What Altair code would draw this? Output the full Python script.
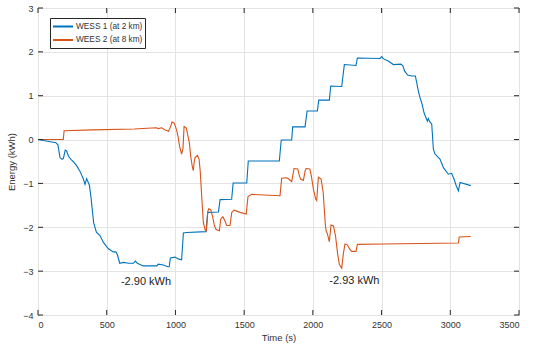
import altair as alt
import pandas as pd

# ---- data ----
wess1_t = [0, 130, 145, 160, 175, 185, 198, 208, 222, 240, 262, 282, 305, 330, 342, 354, 374, 385, 395, 405,
           425, 451, 475, 512, 548, 567, 577, 595, 621, 660, 694, 708, 723, 766, 864, 876, 912, 945, 955, 963,
           997, 1021, 1045, 1058, 1082, 1223, 1235, 1313, 1325, 1409, 1420, 1519, 1530, 1756, 1770, 1846, 1853,
           1943, 1958, 2033, 2043, 2120, 2130, 2210, 2229, 2314, 2324, 2489, 2501, 2515, 2549, 2586, 2640, 2655,
           2668, 2690, 2720, 2746, 2768, 2780, 2792, 2809, 2833, 2840, 2848, 2865, 2877, 2889, 2926, 2950, 2986,
           3010, 3027, 3042, 3059, 3071, 3149]
wess1_e = [0.0, -0.07, -0.12, -0.41, -0.45, -0.43, -0.24, -0.26, -0.38, -0.45, -0.52, -0.6, -0.72, -0.9, -1.02,
           -0.89, -1.04, -1.3, -1.6, -1.9, -2.11, -2.19, -2.34, -2.49, -2.56, -2.56, -2.62, -2.82, -2.8, -2.82,
           -2.82, -2.77, -2.82, -2.88, -2.88, -2.84, -2.86, -2.9, -2.9, -2.7, -2.68, -2.72, -2.74, -2.13, -2.12,
           -2.1, -1.66, -1.65, -1.37, -1.36, -0.99, -0.99, -0.49, -0.49, -0.01, -0.01, 0.29, 0.29, 0.65, 0.65,
           0.9, 0.9, 1.22, 1.21, 1.71, 1.69, 1.86, 1.85, 1.89, 1.84, 1.79, 1.71, 1.72, 1.68, 1.56, 1.47, 1.45,
           1.45, 1.1, 0.95, 0.84, 0.61, 0.42, 0.48, 0.42, 0.35, -0.22, -0.33, -0.45, -0.64, -0.79, -0.77, -0.9,
           -1.04, -1.17, -0.98, -1.05]

wees2_t = [0, 184, 190, 400, 700, 860, 876, 900, 925, 950, 965, 975, 990, 1000, 1010, 1020, 1030, 1045, 1055,
           1063, 1078, 1090, 1101, 1112, 1123, 1130, 1137, 1143, 1160, 1172, 1180, 1191, 1203, 1215, 1225, 1235,
           1242, 1257, 1270, 1283, 1296, 1320, 1330, 1345, 1360, 1373, 1397, 1410, 1427, 1470, 1515, 1528, 1555,
           1761, 1773, 1810, 1825, 1846, 1863, 1890, 1900, 1910, 1931, 1945, 1951, 1978, 1990, 2004, 2020, 2028,
           2040, 2060, 2075, 2090, 2096, 2106, 2120, 2132, 2150, 2165, 2180, 2193, 2210, 2222, 2234, 2251, 2268,
           2283, 2314, 2324, 2513, 3059, 3065, 3149]
wees2_e = [0, 0, 0.2, 0.22, 0.24, 0.27, 0.25, 0.27, 0.22, 0.19, 0.3, 0.4, 0.38, 0.3, 0.2, 0.05, -0.15, -0.33,
           -0.2, 0.3, 0.27, 0.1, -0.07, -0.4, -0.62, -0.71, -0.5, -0.41, -0.36, -0.45, -0.7, -1.28, -1.89, -2.05,
           -2.08, -1.65, -1.58, -1.6, -1.75, -1.95, -2.05, -2.08, -1.81, -1.76, -1.85, -1.96, -1.96, -1.66, -1.61,
           -1.66, -1.7, -1.3, -1.25, -1.28, -0.88, -0.87, -0.9, -0.96, -0.66, -0.67, -0.8, -0.9, -0.93, -0.7,
           -0.66, -0.67, -0.85, -1.13, -1.35, -1.39, -0.86, -0.9, -1.2, -1.9, -2.08, -2.15, -2.33, -1.95, -1.97,
           -2.2, -2.6, -2.85, -2.93, -2.6, -2.38, -2.4, -2.5, -2.55, -2.55, -2.39, -2.38, -2.36, -2.22, -2.21]

series_names = ["WESS 1 (at 2 km)", "WEES 2 (at 8 km)"]
series_colors = ["#0072BD", "#D95319"]

ann_text = ["-2.90 kWh", "-2.93 kWh"]
ann_t = [786, 2302]
ann_e = [-3.25, -3.22]

x_ticks = [0, 500, 1000, 1500, 2000, 2500, 3000, 3500]
y_ticks = [-4, -3, -2, -1, 0, 1, 2, 3]

W, H = 481, 307
FONT = "Liberation Sans"
AX = "#262626"

df = pd.concat([
    pd.DataFrame({"t": wess1_t, "e": wess1_e, "s": series_names[0], "o": range(len(wess1_t))}),
    pd.DataFrame({"t": wees2_t, "e": wees2_e, "s": series_names[1], "o": range(len(wees2_t))}),
])
ann = pd.DataFrame({"t": ann_t, "e": ann_e, "txt": ann_text})
xt = pd.DataFrame({"v": x_ticks})
yt = pd.DataFrame({"v": y_ticks})

xs = alt.Scale(domain=[0, 3500], nice=False)
ys = alt.Scale(domain=[-4, 3], nice=False)
cs = alt.Scale(domain=series_names, range=series_colors)

lines = alt.Chart(df).mark_line(strokeWidth=1.1).encode(
    x=alt.X("t:Q", scale=xs, axis=alt.Axis(values=x_ticks, format="d", title="Time (s)",
                                           labelPadding=5, titlePadding=3)),
    y=alt.Y("e:Q", scale=ys, axis=alt.Axis(values=y_ticks, format="d", title="Energy (kWh)",
                                           labelPadding=5, titlePadding=6)),
    color=alt.Color("s:N", scale=cs, legend=None),
    order="o:Q",
    detail="s:N",
)

texts = alt.Chart(ann).mark_text(font=FONT, fontSize=11, color="#222222").encode(
    x=alt.X("t:Q", scale=xs), y=alt.Y("e:Q", scale=ys), text="txt:N"
)

tb = alt.Chart(xt).mark_rule(color=AX, strokeWidth=1).encode(
    x=alt.X("v:Q", scale=xs), y=alt.value(H), y2=alt.value(H - 5))
tt = alt.Chart(xt).mark_rule(color=AX, strokeWidth=1).encode(
    x=alt.X("v:Q", scale=xs), y=alt.value(0), y2=alt.value(5))
tl = alt.Chart(yt).mark_rule(color=AX, strokeWidth=1).encode(
    y=alt.Y("v:Q", scale=ys), x=alt.value(0), x2=alt.value(5))
tr = alt.Chart(yt).mark_rule(color=AX, strokeWidth=1).encode(
    y=alt.Y("v:Q", scale=ys), x=alt.value(W), x2=alt.value(W - 5))

# manual legend (MATLAB style box)
leg = pd.DataFrame({"s": series_names, "row": [0, 1]})
leg_box = alt.Chart(pd.DataFrame({"k": [0]})).mark_rect(
    fill="white", stroke=AX, strokeWidth=1
).encode(x=alt.value(12.5), x2=alt.value(107.5), y=alt.value(10.5), y2=alt.value(40.5))
leg_line1 = alt.Chart(leg[leg.row == 0]).mark_rule(strokeWidth=2).encode(
    x=alt.value(15), x2=alt.value(35), y=alt.value(18.5), color=alt.Color("s:N", scale=cs, legend=None))
leg_line2 = alt.Chart(leg[leg.row == 1]).mark_rule(strokeWidth=2).encode(
    x=alt.value(15), x2=alt.value(35), y=alt.value(32), color=alt.Color("s:N", scale=cs, legend=None))
leg_txt1 = alt.Chart(leg[leg.row == 0]).mark_text(
    font=FONT, fontSize=8.3, color="#333333", align="left", baseline="middle"
).encode(x=alt.value(38), y=alt.value(18.5), text="s:N")
leg_txt2 = alt.Chart(leg[leg.row == 1]).mark_text(
    font=FONT, fontSize=8.3, color="#333333", align="left", baseline="middle"
).encode(x=alt.value(38), y=alt.value(32), text="s:N")

chart = alt.layer(
    lines, texts, tb, tt, tl, tr, leg_box, leg_line1, leg_line2, leg_txt1, leg_txt2
).properties(
    width=W, height=H,
    autosize=alt.AutoSizeParams(type="none"),
    padding={"left": 38, "top": 8, "right": 15, "bottom": 29},
).configure_view(
    stroke=AX, strokeWidth=1
).configure_axis(
    domain=False, ticks=False, grid=True, gridColor="#e3e3e3", gridWidth=1,
    labelFont=FONT, labelFontSize=9, labelColor="#333333",
    titleFont=FONT, titleFontSize=9.5, titleFontWeight="normal", titleColor="#333333",
)

chart.save("out.html", embed_options={"renderer": "svg", "actions": False})
